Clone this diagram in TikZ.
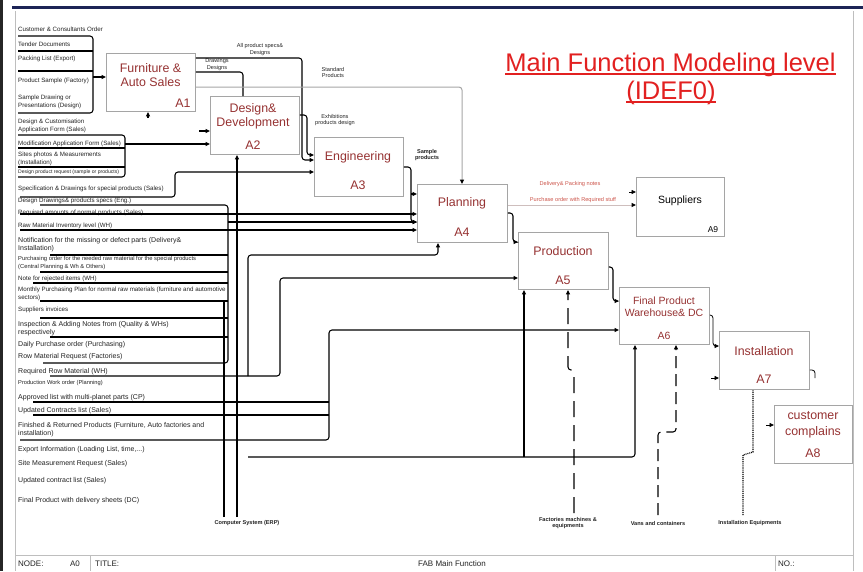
\documentclass[tikz,border=0pt]{standalone}
\usepackage{fontspec}
\setmainfont{Liberation Sans}
\usetikzlibrary{arrows.meta}
\definecolor{boxline}{RGB}{165,165,165}
\definecolor{boxtext}{RGB}{150,50,50}
\definecolor{titlered}{RGB}{226,32,32}
\definecolor{notered}{RGB}{205,85,75}
\definecolor{navybar}{RGB}{28,36,86}
\definecolor{frameline}{RGB}{190,190,190}
\definecolor{labtext}{RGB}{35,35,35}
\begin{document}
\begin{tikzpicture}[x=1pt,y=-1pt,
  box/.style={draw=boxline,line width=0.9pt,inner sep=0pt,anchor=north west},
  ttl/.style={text=boxtext,font=\fontsize{12.4}{14.5}\selectfont,align=center,inner sep=0pt},
  ttlsm/.style={ttl,font=\fontsize{10.5}{12}\selectfont},
  lab/.style={anchor=west,inner sep=0pt,align=left,text=labtext,font=\fontsize{6.2}{7.6}\selectfont},
  labl/.style={lab,font=\fontsize{7.0}{8}\selectfont},
  labxs/.style={lab,font=\fontsize{5.1}{6.2}\selectfont},
  note/.style={inner sep=0pt,align=center,text=labtext,font=\fontsize{5.6}{6.8}\selectfont},
  notebf/.style={note,font=\bfseries\fontsize{5.6}{6.8}\selectfont},
  redn/.style={note,text=notered},
  foot/.style={inner sep=0pt,text=labtext,font=\fontsize{8}{9}\selectfont},
  flow/.style={line width=1.05pt,rounded corners=3pt},
  thinflow/.style={line width=0.8pt,rounded corners=3pt},
  grayflow/.style={line width=1pt,draw=black!35,rounded corners=3pt},
  tip/.style={-{Triangle[length=4.5pt,width=4pt,color=black]}}
]
\useasboundingbox (0,0) rectangle (863,571);
\fill[white] (0,0) rectangle (863,571);

% page frame and footer
\fill[black!85] (0,0) rectangle (3,571);
\fill[navybar] (12,5.5) rectangle (863,9);
\draw[frameline,line width=0.8pt] (15.5,11) -- (15.5,571);
\draw[frameline,line width=0.8pt] (853,11) -- (853,571);
\draw[frameline,line width=0.8pt] (15.5,555) -- (853,555);
\draw[frameline,line width=0.8pt] (90,555) -- (90,571);
\draw[frameline,line width=0.8pt] (775,555) -- (775,571);
\node[foot,anchor=west] (fnode) at (18,564) {NODE:};
\node[foot] (fa0) at (75,564) {A0};
\node[foot,anchor=west] (ftitle) at (95,564) {TITLE:};
\node[foot] (fname) at (452,564) {FAB Main Function};
\node[foot,anchor=west] (fno) at (778,564) {NO.:};

% heading
\node[anchor=base,inner sep=0pt,text=titlered,font=\fontsize{25.5}{27}\selectfont] (head1) at (670.5,71) {Main Function Modeling level};
\node[anchor=base,inner sep=0pt,text=titlered,font=\fontsize{25.5}{27}\selectfont] (head2) at (671,99) {(IDEF0)};
\draw[titlered,line width=1.4pt] ([yshift=-3pt]head1.base west) -- ([yshift=-3pt]head1.base east);
\draw[titlered,line width=1.4pt] ([yshift=-3pt]head2.base west) -- ([yshift=-3pt]head2.base east);

% activity boxes
\node[box,minimum width=89pt,minimum height=58pt] (a1) at (106,53) {};
\node[box,minimum width=89pt,minimum height=58pt] (a2) at (210,96) {};
\node[box,minimum width=89pt,minimum height=59pt] (a3) at (314,137) {};
\node[box,minimum width=90pt,minimum height=58pt] (a4) at (417,184) {};
\node[box,minimum width=90pt,minimum height=57pt] (a5) at (518,232) {};
\node[box,minimum width=90pt,minimum height=57pt] (a6) at (619,287) {};
\node[box,minimum width=90pt,minimum height=58pt] (a7) at (719,331) {};
\node[box,minimum width=78pt,minimum height=58pt] (a8) at (774,405) {};
\node[box,minimum width=88pt,minimum height=59pt] (a9) at (636,177) {};

\node[ttl] (a1t) at (150.5,75) {Furniture \&\\Auto Sales};
\node[ttl] (a1c) at (183,103) {A1};
\node[ttl,font=\fontsize{12.4}{14}\selectfont] (a2t) at (253,116) {Design\&\\Development};
\node[ttl] (a2c) at (253,145) {A2};
\node[ttl] (a3t) at (358,157) {Engineering};
\node[ttl] (a3c) at (358,185) {A3};
\node[ttl] (a4t) at (462,203) {Planning};
\node[ttl] (a4c) at (462,232) {A4};
\node[ttl] (a5t) at (563,251) {Production};
\node[ttl] (a5c) at (563,280) {A5};
\node[ttlsm] (a6t) at (664,307) {Final Product\\Warehouse\& DC};
\node[ttlsm] (a6c) at (664,336) {A6};
\node[ttl] (a7t) at (764,351) {Installation};
\node[ttl] (a7c) at (764,379) {A7};
\node[ttl,font=\fontsize{12.4}{16}\selectfont] (a8t) at (813,425) {customer\\complains};
\node[ttl] (a8c) at (813,453) {A8};
\node[inner sep=0pt,font=\fontsize{10.5}{12}\selectfont] (a9t) at (680,201) {Suppliers};
\node[inner sep=0pt,font=\fontsize{8.5}{10}\selectfont] (a9c) at (713,230) {A9};

% left-hand input labels
\node[lab] (l1) at (18,29) {Customer \& Consultants Order};
\node[lab] (l2) at (18,44) {Tender Documents};
\node[lab] (l3) at (18,59) {Packing List (Export)};
\node[lab] (l4) at (18,81) {Product Sample (Factory)};
\node[lab] (l5) at (18,102) {Sample Drawing or\\Presentations (Design)};
\node[lab] (l6) at (18,126) {Design \& Customisation\\Application Form (Sales)};
\node[lab] (l7) at (18,144) {Modification Application Form (Sales)};
\node[lab] (l8) at (18,159) {Sites photos \& Measurements\\(Installation)};
\node[labxs] (l9) at (18,172) {Design product request (sample or products)};
\node[lab] (l10) at (18,189) {Specification \& Drawings for special products (Sales)};
\node[lab] (l11) at (18,201) {Design Drawings\& products specs (Eng.)};
\node[lab] (l12) at (18,213) {Required amounts of normal products (Sales)};
\node[lab] (l13) at (18,226) {Raw Material Inventory level (WH)};
\node[labl] (l14) at (18,245) {Notification for the missing or defect parts (Delivery\&\\Installation)};
\node[lab,font=\fontsize{5.8}{7.4}\selectfont] (l15) at (18,263) {Purchasing order for the needed raw material for the special products\\(Central Planning \& Wh \& Others)};
\node[lab] (l16) at (18,279) {Note for rejected items (WH)};
\node[lab] (l17) at (18,294) {Monthly Purchasing Plan for normal raw materials (furniture and automotive\\sectors)};
\node[lab] (l18) at (18,310) {Suppliers invoices};
\node[labl] (l19) at (18,329) {Inspection \& Adding Notes from (Quality \& WHs)\\respectively};
\node[labl] (l20) at (18,345) {Daily Purchase order (Purchasing)};
\node[labl] (l21) at (18,357) {Row Material Request (Factories)};
\node[labl] (l22) at (18,372) {Required Row Material (WH)};
\node[lab,font=\fontsize{5.7}{7}\selectfont] (l23) at (18,383) {Production Work order (Planning)};
\node[labl] (l24) at (18,398) {Approved list with multi-planet parts (CP)};
\node[labl] (l25) at (18,411) {Updated Contracts list (Sales)};
\node[labl] (l26) at (18,430) {Finished \& Returned Products (Furniture, Auto factories and\\installation)};
\node[labl] (l27) at (18,450) {Export Information (Loading List, time,...)};
\node[labl] (l28) at (18,464) {Site Measurement Request (Sales)};
\node[labl] (l29) at (18,481) {Updated contract list (Sales)};
\node[labl] (l30) at (18,501) {Final Product with delivery sheets (DC)};

% connector labels
\node[note] (n1) at (260,49.5) {All product specs\&\\Designs};
\node[note] (n2) at (217,64.5) {Drawings\\Designs};
\node[note] (n3) at (333,72.5) {Standard\\Products};
\node[note] (n4) at (335,120) {Exhibitions\\products design};
\node[notebf] (n5) at (427,155) {Sample\\products};
\node[redn] (n6) at (570,184) {Delivery\& Packing notes};
\node[redn] (n7) at (573,200) {Purchase order with Required stuff};
\node[notebf] (m1) at (247,523) {Computer System (ERP)};
\node[notebf] (m2) at (568,523) {Factories machines \&\\equipments};
\node[notebf] (m3) at (658,523) {Vans and containers};
\node[notebf] (m4) at (750,523) {Installation Equipments};

% free ends of the input lines
\coordinate (s36) at (18,36);
\coordinate (s51) at (18,51);
\coordinate (s71) at (18,71);
\coordinate (s113) at (18,113);
\coordinate (s135) at (18,135);
\coordinate (s148) at (18,148);
\coordinate (s167) at (18,167);
\coordinate (s177) at (18,177);
\coordinate (s197) at (20,197);
\coordinate (s205) at (40,205);
\coordinate (s214) at (20,214);
\coordinate (s230) at (20,230);
\coordinate (s255) at (50,255);
\coordinate (s272) at (40,272);
\coordinate (s283) at (33,283);
\coordinate (s301) at (40,301);
\coordinate (s318) at (40,318);
\coordinate (s337) at (50,337);
\coordinate (s363) at (43,363);
\coordinate (s376) at (50,376);
\coordinate (s402) at (33,402);
\coordinate (s415) at (33,415);
\coordinate (s440) at (20,440);
\coordinate (s457) at (248,457);
\coordinate (erp1) at (224,517);
\coordinate (erp2) at (237,517);
\coordinate (fac) at (574,513);
\coordinate (van) at (658,515);
\coordinate (ins) at (743,515);

% inputs of A1
\draw[flow] (s36) -- (93,36) -- (93,113) -- (s113);
\draw[flow] (s51) -- (93,51);
\draw[flow] (s71) -- (93,71);
\draw[flow,tip] (93,77) -- (a1.west |- 0,77);
\draw[flow,tip] (148,118) -- (a1.south -| 148,0);

% outputs of A1
\draw[flow,tip] (a1.east |- 0,58) -- (302,58) -- (302,160) -- (a3.west |- 0,160);
\draw[flow] (a1.east |- 0,72) -- (243,72) -- (a2.north -| 243,0);
\draw[grayflow,tip] (a1.east |- 0,87) -- (462,87) -- (a4.north -| 462,0);

% inputs of A2
\draw[flow] (s135) -- (125,135) -- (125,177) -- (s177);
\draw[flow] (s148) -- (125,148);
\draw[flow] (s167) -- (125,167);
\draw[flow,tip] (125,144) -- (a2.west |- 0,144);
\draw[flow,tip] (199,131) -- (a2.west |- 0,131);

% inputs of A3
\draw[flow,tip] (s197) -- (175,197) -- (175,172) -- (a3.west |- 0,172);
\draw[flow,tip] (a2.east |- 0,115) -- (307,115) -- (307,155) -- (a3.west |- 0,155);

% A3 to A4
\draw[flow,tip] (a3.east |- 0,167) -- (411,167) -- (411,222) -- (a4.west |- 0,222);
\draw[flow,tip] (411,194) -- (a4.west |- 0,194);

% inputs of A4 from the left
\draw[flow] (s205) -- (228,205) -- (228,363) -- (s363);
\foreach \s in {s255,s272,s283,s301,s318,s337}
  \draw[flow] (\s) -- (\s -| 228,0);
\draw[flow,tip] (228,222) -- (a4.west |- 0,222);
\draw[flow,tip] (s214) -- (a4.west |- s214);
\draw[flow,tip] (s230) -- (a4.west |- s230);

% computer system
\draw[flow] (erp1) -- (224,300);
\draw[flow,tip] (erp2) -- (a2.south -| erp2);

% raw material lines to A4 and A5
\draw[flow,tip] (s376) -- (280,376) -- (280,278) -- (a5.west |- 0,278);
\draw[flow,tip] (248,376) -- (248,255) -- (438,255) -- (a4.south -| 438,0);

% inputs of A6
\draw[flow,tip] (s440) -- (329,440) -- (329,330) -- (a6.west |- 0,330);
\draw[flow] (s402) -- (329,402);
\draw[flow] (s415) -- (329,415);
\draw[flow,tip] (s457) -- (635,457) -- (a6.south -| 635,0);
\draw[flow,tip] (524,457) -- (a5.south -| 524,0);

% outputs of A4
\draw[flow,tip] (a4.east |- 0,213) -- (513,213) -- (513,242) -- (a5.west |- 0,242);
\draw[grayflow,draw=notered!45!black!30,tip] (a4.east |- 0,205) -- (a9.west |- 0,205);
\draw[thinflow,tip] (629,192) -- (a9.west |- 0,192);

% A5 to A6, A6 to A7
\draw[flow,tip] (a5.east |- 0,267) -- (613,267) -- (613,301) -- (a6.west |- 0,301);
\draw[thinflow,tip] (a6.east |- 0,315) -- (713,315) -- (713,346) -- (a7.west |- 0,346);
\draw[thinflow,tip] (711,378) -- (a7.west |- 0,378);
\draw[thinflow] (a7.east |- 0,370) -- (815,370) -- (815,378);
\draw[thinflow,tip] (766,425) -- (a8.west |- 0,425);

% mechanisms
\draw[flow,dash pattern=on 16pt off 8pt,tip] (fac) -- (574,370) -- (568,370) -- (a5.south -| 568,0);
\draw[flow,dash pattern=on 12pt off 6pt,tip] (van) -- (658,432) -- (676,432) -- (a6.south -| 676,0);
\draw[line width=1.2pt,dash pattern=on 1pt off 0.9pt] (ins) -- (743,455) -- (753,452) -- (a7.south -| 753,0) ++(0,-4);
\end{tikzpicture}
\end{document}
